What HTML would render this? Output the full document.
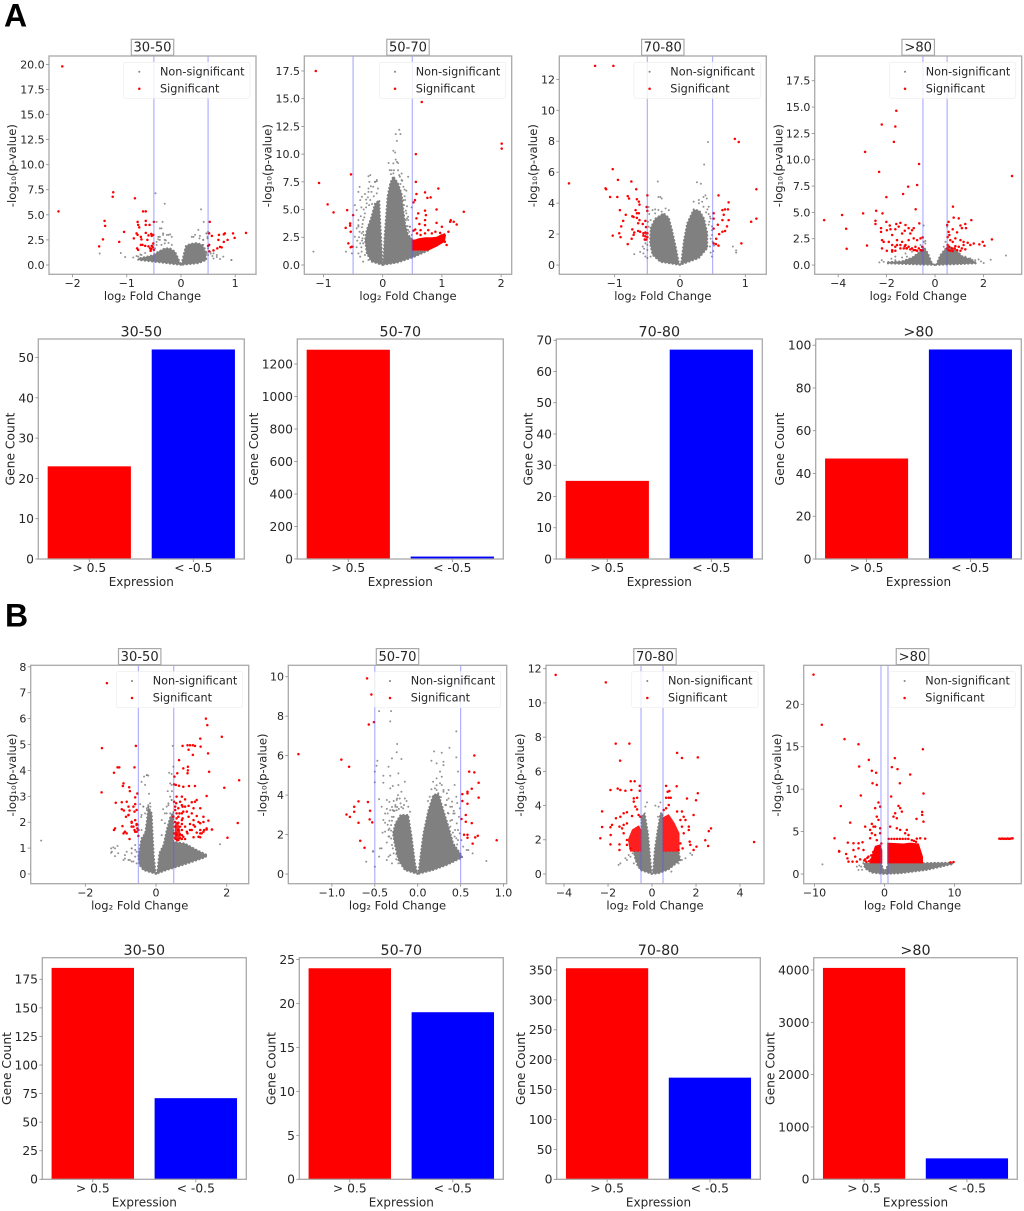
<!DOCTYPE html>
<html lang="en">
<head>
<meta charset="utf-8">
<title>Volcano plots and gene counts by age group</title>
<style>
html,body{margin:0;padding:0;background:#fff;}
svg{display:block;filter:blur(0.35px);font-family:"DejaVu Sans","Liberation Sans",sans-serif;}
text{fill:#262626;}
</style>
</head>
<body>
<svg id="figure" xmlns="http://www.w3.org/2000/svg" width="1024" height="1211" viewBox="0 0 1024 1211">
<rect x="0" y="0" width="1024" height="1211" fill="#fff"/>
<text x="4" y="26.5" font-family="Liberation Sans" font-weight="700" font-size="32" style="fill:#000">A</text>
<text x="5" y="626.7" font-family="Liberation Sans" font-weight="700" font-size="32" style="fill:#000">B</text>
</svg>
<script>
// ---------- shared labels ----------
const barCategories = ['> 0.5', '< -0.5'];
const legendLabels = ['Non-significant', 'Significant'];
const thresholds = [-0.5, 0.5];

// ---------- bar chart values ----------
const barA3050 = [23, 52];
const barA5070 = [1288, 15];
const barA7080 = [25, 67];
const barA80 = [47, 98];
const barB3050 = [185, 71];
const barB5070 = [24, 19];
const barB7080 = [353, 170];
const barB80 = [4040, 400];

// ---------- bar tick labels ----------
const barTicksA3050 = [0, 10, 20, 30, 40, 50];
const barTicksA5070 = [0, 200, 400, 600, 800, 1000, 1200];
const barTicksA7080 = [0, 10, 20, 30, 40, 50, 60, 70];
const barTicksA80 = [0, 20, 40, 60, 80, 100];
const barTicksB3050 = [0, 25, 50, 75, 100, 125, 150, 175];
const barTicksB5070 = [0, 5, 10, 15, 20, 25];
const barTicksB7080 = [0, 50, 100, 150, 200, 250, 300, 350];
const barTicksB80 = [0, 1000, 2000, 3000, 4000];

// ---------- volcano tick labels ----------
const xTicksA3050 = [-2, -1, 0, 1];
const yTicksA3050 = [0, 2.5, 5, 7.5, 10, 12.5, 15, 17.5, 20];
const xTicksA5070 = [-1, 0, 1, 2];
const yTicksA5070 = [0, 2.5, 5, 7.5, 10, 12.5, 15, 17.5];
const xTicksA7080 = [-1, 0, 1];
const yTicksA7080 = [0, 2, 4, 6, 8, 10, 12];
const xTicksA80 = [-4, -2, 0, 2];
const yTicksA80 = [0, 2.5, 5, 7.5, 10, 12.5, 15, 17.5];
const xTicksB3050 = [-2, 0, 2];
const yTicksB3050 = [0, 1, 2, 3, 4, 5, 6, 7, 8];
const xTicksB5070 = [-1, -0.5, 0, 0.5, 1];
const yTicksB5070 = [0, 2, 4, 6, 8, 10];
const xTicksB7080 = [-4, -2, 0, 2, 4];
const yTicksB7080 = [0, 2, 4, 6, 8, 10, 12];
const xTicksB80 = [-10, 0, 10];
const yTicksB80 = [0, 5, 10, 15, 20];

// ---------- A 30-50 ----------
const nsCloudA3050 = [
 [[0,0],[-.26,.17],[-.51,.33],[-.79,.5],[-.79,.66],[-.63,.83],[-.51,1],[-.42,1.33],[-.3,1.66],[-.2,1.66],[-.11,1.33],[-.05,.66],[-.01,.1]],
 [[.01,.1],[.055,1.16],[.09,1.9],[.17,2.1],[.29,2.2],[.4,2],[.45,1.33],[.47,.5],[.32,.17],[.135,.07],[0,0]]
];
const nsPointsA3050 = [[-.47,7.15],[-.3,6.1],[.37,5.55],[-.34,4.3],[-.45,4.3],[.42,4.3],[-.39,3.65],[.32,3.5],[.5,3.3],[.47,3.15],[.49,2.8],[-.23,3],[-.17,2.8],[-.33,3.15],[-.39,2.8],[-.3,2.5],[-.45,2.3],[.2,2.8],[.26,3],[.34,2.65],[.41,2.5],[-1.5,1.15],[-1.11,1.2],[-1.03,.8],[-.88,.75],[.6,.65],[.66,.8],[.93,.5],[.5,1],[.55,1.15],[.47,1.3],[.41,2],[.44,1.65],[-.82,.9],[-.75,1.05],[-.66,1.2],[-.55,1.55],[-.42,2.55],[-.28,2.45],[.72,.6],[.58,.9],[-.45,2],[-.39,2.5],[-.36,3.65],[-.33,3],[-.26,3],[-.2,3.05],[-.42,2.8],[-.51,2],[-.48,1.66],[-.36,2],[-.3,2.15],[-.23,2.2],[-.17,2],[-.73,1],[-.79,.83],[.23,2.8],[.35,2.9],[.41,2.5],[.47,3.15],[.49,2.65],[.5,1.66],[.54,1.33],[.6,1.16],[.66,1],[.78,.83],[.93,.5],[.47,1.16]];
const sigPointsA3050 = [[-2.19,19.8],[-2.26,5.35],[-1.25,7.25],[-1.26,6.8],[-.85,6.65],[-1.41,4.4],[-1.4,3.9],[-1.05,3.3],[-1.44,2.55],[-1.51,1.85],[-1.14,2.3],[-.7,5.35],[-.65,5.35],[-.8,4.3],[-.79,4],[-.77,3.75],[-.65,4.4],[-.65,4],[-.58,4],[-.5,4.3],[-.87,2.65],[-.82,3.15],[-.8,3],[-.74,2.8],[-.73,2.55],[-.65,3.2],[-.6,2.95],[-.55,3.1],[-.51,3],[-.62,2.5],[-.54,2.9],[-.74,2],[-.81,1.65],[-.79,1.5],[-.71,2],[-.6,1.85],[-.57,1.65],[-.54,1.9],[-.51,2.15],[-.55,1.6],[-.52,1.75],[-.5,1.5],[-.56,1.4],[-.66,1.9],[.53,4.3],[.52,3.15],[.57,2.9],[.7,3],[.79,3.05],[.81,3.15],[.96,3.15],[1.2,3.2],[.69,2.5],[.79,2.3],[.86,2.5],[.99,2.7],[.52,2],[.5,1.9],[.67,1.65],[.72,1.8],[.75,1.75],[.6,1.45],[.52,1.35]];
const sigCloudA3050 = [];

// ---------- A 50-70 ----------
const nsCloudA5070 = [
 [[0,0],[-.19,.3],[-.27,1.05],[-.3,2.25],[-.27,3.15],[-.19,4.35],[-.13,5.55],[-.056,5.85],[-.045,4.35],[-.023,2.25],[-.005,.45]],
 [[.01,.45],[.03,2.55],[.056,4.35],[.08,6.15],[.124,7.35],[.18,8],[.26,7.35],[.32,6.45],[.35,4.95],[.38,3.75],[.43,2.7],[.49,2.4],[.49,1.3],[.77,1.3],[.52,.7],[.24,.2],[0,0]]
];
const nsPointsA5070 = [[.28,12.2],[.22,11.8],[.3,11.8],[.24,11.2],[.18,10.3],[.21,10.15],[.1,9.2],[.22,9.5],[.26,9.2],[.15,8.55],[.19,8.55],[.32,8.25],[.26,8.55],[-.21,8.1],[-.24,8],[-.1,7.55],[-.13,7.5],[-.39,7.05],[-.41,6.6],[-.38,5.85],[-.47,5.4],[.4,6.7],[.49,5.2],[.43,4.35],[.39,4.05],[.46,3.45],[.35,5.85],[-1.17,1.2],[-.62,1.2],[-.52,1.05],[-.5,1.65],[-.47,2.55],[-.44,3.3],[-.41,4.05],[-.41,1.05],[-.38,.75],[-.33,.3],[-.44,4.95],[-.35,6.15],[-.3,6.4],[-.24,6.9],[.37,6.2],[.33,7.6],[.41,5.3],[-.43,2.2],[-.44,1.6],[-.41,3.6],[-.355,2.86],[-.33,4.06],[-.3,4.66],[-.27,5.56],[-.24,6.6],[-.225,7.5],[-.19,6.6],[-.16,7.06],[-.13,7.5],[-.1,7.66],[-.21,5.86],[-.33,1.95],[-.355,1.2],[-.3,.9],[-.24,.45],[-.38,1.95],[-.41,3.46],[-.1,6.46],[.29,7.96],[.35,7.06],[.18,9.17],[.24,9.3],[.12,8.56],[.43,7.96],[.4,4.66],[.43,4.06],[.46,3.46],[.38,5.86],[.43,3.16],[.49,2.7],[.32,7.66],[.18,8.26],[-.35,3.4],[-.33,3],[-.32,5],[-.28,5.9],[-.34,2.4],[-.36,1.6],[-.34,3.7],[-.37,4.4],[-.31,4.3],[-.32,2.7],[-.35,2.2],[-.28,5.2],[-.23,5.4],[-.25,6.1],[-.18,5.5],[-.15,6.2],[-.2,7.1],[-.08,6.9],[-.36,5.2],[-.39,3],[-.4,2.5],[.36,5.4],[.39,4.9],[.41,4.2],[.42,3.5],[.45,3],[.37,6.8],[.28,8.1],[.14,8.2],[.3,7.3]];
const sigPointsA5070 = [[-1.13,17.5],[-1.075,7.4],[-.93,5.47],[-.83,4.75],[-.6,4.95],[-.535,8.17],[-.5,4.5],[-.55,3.75],[-.55,3.55],[-.625,3.35],[-.54,3],[-.58,1.95],[-.54,1.6],[-.52,1.65],[.66,14.7],[.56,10],[2.01,10.95],[2.01,10.5],[.56,7.5],[.94,6.9],[.715,6.55],[.57,6.4],[.755,6.05],[.81,6.1],[.545,5.85],[.52,5.65],[.91,5],[1.37,4.8],[.715,4.9],[.73,4.5],[.6,4.65],[.57,4.2],[1.15,4.05],[1.14,3.9],[1.2,3.9],[1.25,3.65],[.91,3.8],[.715,4.05],[.62,3.7],[.715,3.6],[1,3.45],[1.11,3],[.89,3],[.77,3.15],[.64,3.15],[.55,3.2],[.52,3.1],[.64,2.7],[.715,2.85],[.83,2.85],[1.05,2.1],[1.08,1.8],[1.04,2.75],[.97,2.9],[.58,2.85]];
const sigCloudA5070 = [
 [[.49,1.3],[.77,1.3],[.91,1.65],[1.05,2.1],[1.07,2.7],[1,2.8],[.91,2.55],[.83,2.5],[.72,2.5],[.6,2.4],[.55,2.3],[.49,2.3]]
];

// ---------- A 70-80 ----------
const nsCloudA7080 = [
 [[0,0],[-.3,.2],[-.42,.65],[-.46,1.4],[-.45,2.4],[-.38,3],[-.25,3.35],[-.17,3.05],[-.12,2.25],[-.06,1.1],[-.02,.2]],
 [[.02,.2],[.06,1.6],[.11,2.7],[.21,3.6],[.3,3.5],[.37,3],[.42,2.05],[.42,1.1],[.29,.45],[0,0]]
];
const nsPointsA7080 = [[.43,7.95],[.37,6.5],[-.34,5.4],[.26,5.35],[.32,5.25],[-.33,4.4],[-.3,4.4],[-.28,4.3],[-.48,3.75],[-.47,3.3],[.39,4.5],[.36,4.4],[.41,4.3],[.21,4.1],[.29,4.2],[.44,3.3],[.49,2.5],[.49,2.25],[.49,.55],[.46,1.2],[-.7,.7],[-.57,1.2],[-.53,.55],[-.5,.45],[-.61,.85],[.81,1.2],[.86,.95],[.86,.8],[-.42,3.55],[-.38,3.6],[-.22,3.65],[-.17,3.55],[-.52,2],[-.53,1.6],[.5,1.5],[.47,3],[.42,3.6],[.45,2.8],[-.55,1.05],[.51,.9],[-.38,3.34],[-.33,3.56],[-.28,3.45],[-.45,2.9],[-.48,2.48],[-.5,1.83],[-.53,1.4],[-.56,.75],[-.5,.97],[-.45,.54],[.29,3.99],[.34,4.09],[.36,3.77],[.44,3.77],[.46,3.13],[.49,1.94],[.44,2.6],[.47,1.7],[.4,3.4],[-.49,2.8],[-.5,1.3],[.52,1.25],[.47,.8]];
const sigPointsA7080 = [[-1.3,12.87],[-1.02,12.87],[-1.7,5.28],[-1.03,6.2],[-.95,5.5],[-.745,5.4],[-.67,4.9],[-1.14,4.95],[-1.13,4.9],[-1.07,4.4],[-.96,4.4],[-.8,4.45],[-.78,4.3],[-.66,4.25],[-.63,4.1],[-.62,3.9],[-.5,4.5],[-.51,3.75],[-.5,3.5],[-.92,3.55],[-.83,3.25],[-.73,3.15],[-.68,3.55],[-.66,3.35],[-.63,3.35],[-.71,3.1],[-.66,3.05],[-.62,2.9],[-.64,2.7],[-.87,2.85],[-.9,2.5],[-.53,2.85],[-.57,2.65],[-.52,2.45],[-.93,2.05],[-1.03,1.9],[-.91,1.8],[-.73,2.3],[-.7,2.1],[-.64,2.2],[-.61,2.15],[-.74,1.7],[-.8,1.35],[-.71,1.95],[-.56,2.05],[-.53,2.1],[-.5,2.05],[-.56,1.9],[-.53,1.85],[-.5,1.8],[-.54,1.65],[-.515,1.65],[.84,8.15],[.9,7.95],[1.17,4.9],[.59,4.5],[.745,4.05],[.515,3.35],[.65,3.55],[.69,3.6],[.735,3.6],[.67,3.25],[.515,3],[.65,2.9],[.745,2.9],[.58,2.6],[.515,2.35],[.72,2.5],[.69,2.2],[.65,2.15],[.6,2],[.555,1.7],[.515,1.4],[.55,1.35],[.59,1.25],[.94,1.4],[1.09,2.8],[1.17,3]];
const sigCloudA7080 = [];

// ---------- A >80 ----------
const nsCloudA80 = [
 [[0,0],[-1.98,.15],[-1.98,.28],[-1.36,.36],[-.95,.7],[-.67,1.2],[-.47,1.75],[-.29,1.1],[-.15,.3],[-.05,.05]],
 [[.05,.05],[.22,.95],[.5,1.75],[.84,1.55],[1.11,.85],[1.53,.5],[1.73,.15],[0,0]]
];
const nsPointsA80 = [[2.93,.9],[2.01,.19],[-.47,3.75],[-.47,2.2],[-.4,2.3],[.5,3.65],[-2.12,.3],[-2.2,.47],[-1.64,.8],[-1.36,.72],[-1.22,1.1],[-.95,1.26],[-1.16,.8],[-1.64,.47],[.98,1.1],[1.25,.8],[1.46,.63],[1.66,.47],[1.8,.54],[.43,2.2],[.36,1.74],[-.6,1.9],[-.4,2.05],[-2.3,.25],[2.3,.5],[1.9,.35],[-1.8,.6]];
const sigPointsA80 = [[-1.6,14.65],[-2.2,13.35],[-1.64,13.15],[-1.7,11.7],[-2.89,10.75],[-.66,9.6],[-2.31,8.85],[-1.11,7.45],[-.74,7.6],[-1.32,6.75],[-2.01,6.45],[-.8,5.3],[-2.43,5.15],[-2.17,4.9],[-2.97,4.9],[-3.84,4.75],[-4.58,4.27],[-3.67,3.45],[-3.65,1.55],[-2.81,1.85],[-2.46,4.2],[-2.46,3.9],[-2.01,4.1],[-2.23,3.5],[-2.23,3.15],[-1.99,3.3],[-1.84,3.4],[-1.6,3.9],[-1.87,3.75],[-1.43,4],[-1.22,3.8],[-1.09,3.5],[-.95,3.3],[-.65,3.95],[-1.64,3.4],[-1.5,3.65],[-1.25,3.25],[-1.02,3],[-.88,3.5],[-1.36,3],[-2.19,2.37],[-2.12,2.2],[-1.77,2.85],[-1.91,2.2],[-1.57,2.37],[-1.36,2.2],[-1.09,2.37],[-.88,2.53],[-.74,2.37],[-.6,2.53],[-.51,2.63],[-2.19,1.58],[-1.99,1.36],[-1.77,1.9],[-1.64,1.74],[-1.43,1.58],[-1.22,1.9],[-1.09,1.74],[-.95,1.58],[-.81,1.74],[-.67,1.58],[-.53,1.74],[-1.77,1.42],[-1.64,1.36],[-1.29,1.58],[-1.16,1.58],[-1.02,1.49],[-.88,1.42],[-.74,1.36],[-.6,1.42],[-.51,1.42],[-1.77,1.27],[-1.43,1.9],[-1.25,1.8],[-1.18,1.58],[-1.57,1.9],[-.81,1.42],[-.53,1.36],[.74,5.55],[3.18,8.45],[1.5,4.27],[.77,4.5],[.98,4.43],[.56,4.1],[.5,3.8],[1.25,3.9],[1.05,3.75],[1.28,3.5],[.73,3.4],[1.11,3.5],[.91,3.1],[.56,3.15],[.59,2.85],[.52,2.65],[.63,2.37],[.73,2.2],[.84,2.53],[1.05,2.37],[1.18,2.2],[1.35,2.12],[1.6,2.05],[1.97,2.2],[2.35,2.44],[1.83,1.96],[2.04,1.83],[.52,1.9],[.59,1.74],[.7,1.58],[.84,1.8],[.98,1.74],[1.11,1.58],[.56,1.42],[.63,1.36],[.73,1.33],[.81,1.58],[.91,1.42],[1.05,1.36],[1.25,1.49],[1.46,1.9],[1.18,1.9],[.5,1.58]];
const sigCloudA80 = [];

// ---------- B 30-50 ----------
const nsCloudB3050 = [
 [[0,0],[-.36,.15],[-.47,.35],[-.5,.67],[-.45,1.12],[-.41,1.38],[-.31,1.57],[-.26,2.08],[-.22,2.6],[-.12,2.34],[-.1,1.7],[-.06,.67],[-.02,.15]],
 [[.04,.15],[.09,.8],[.21,1.12],[.3,1.7],[.4,2.2],[.49,2.4],[.49,1.25],[.82,1.18],[1.15,.93],[1.45,.73],[1.39,.64],[.77,.35],[.3,.15],[0,0]]
];
const nsPointsB3050 = [[-3.25,1.29],[1.81,1.15],[.47,4.95],[.49,4.14],[.37,3.91],[.44,3.86],[-.26,3.82],[-.22,3.8],[-.34,3.76],[.44,3.44],[-.41,3.56],[-.31,3.44],[-.45,2.7],[-.36,2.6],[-.26,2.47],[-.22,2.66],[.4,2.99],[.44,2.86],[.35,2.73],[.25,2.34],[.16,2.08],[.3,2.6],[.4,2.34],[-1.27,.82],[-1.21,1.03],[-1.09,1.08],[-1.27,.99],[-1.16,.69],[-.88,.73],[-.78,.54],[-.92,.54],[-.69,.48],[-.55,.41],[-.69,.99],[-.59,1.12],[-.69,.8],[-.59,.67],[-.83,.86],[-.26,1.83],[-.31,1.57],[-.41,1.7],[-.16,2.6],[-.2,3.1],[.33,3.2],[.2,2.5],[-.5,1.9],[-.42,2.2],[.45,3.2],[-1.25,.86],[-1.16,.99],[-1.07,.8],[-.88,.6],[-.74,.54],[-.64,.48],[-.59,.93],[-.69,.99],[-.55,.86],[-.45,.35],[-.26,2.54],[-.17,2.73],[-.22,2.2],[-.31,2.34],[-.41,2.28],[-.36,2.6],[-.17,1.83],[-.26,3.82],[.3,2.34],[.35,2.66],[.44,2.86],[.25,1.96],[.16,1.5],[.4,3.5]];
const sigPointsB3050 = [[-1.39,7.37],[-1.53,4.86],[-.57,4.95],[-1.54,3.15],[-1.09,4.12],[-1.04,4.12],[-1.19,3.91],[-.61,4.12],[-.92,3.5],[-.94,3.4],[-.76,3.35],[-.74,3.2],[-.53,3.11],[-.59,2.96],[-1.14,2.75],[-.97,2.77],[-.83,2.79],[-.59,2.7],[-.64,2.6],[-.97,2.5],[-.91,2.45],[-.78,2.6],[-.75,2.45],[-.78,2.28],[-.85,2.21],[-.61,2.41],[-.55,2.47],[-.69,1.98],[-.59,2.08],[-.55,1.93],[-.69,1.83],[-.61,1.7],[-.53,1.76],[-.95,1.85],[-1.16,1.76],[-1.19,1.7],[-.88,1.63],[-.83,1.57],[-.75,1.35],[-.5,1.47],[-.55,1.63],[1.41,6],[1.45,5.75],[1.25,5.23],[1.86,5.3],[1.26,4.92],[.75,4.95],[.89,4.97],[.96,4.97],[1.04,4.97],[1.1,4.95],[1.47,4.66],[.92,4.8],[1.04,4.6],[.65,4.4],[.9,4.14],[.9,4],[.89,3.89],[.77,4.08],[1.5,3.95],[2.35,3.62],[.6,3.89],[.52,3.76],[.51,3.46],[.56,3.44],[.65,3.41],[.77,3.37],[.93,3.4],[1.1,3.4],[1.93,3.33],[1.43,3.01],[.58,2.99],[.73,2.99],[.51,2.79],[.68,2.79],[.82,2.88],[1.15,2.86],[1.1,2.79],[1.01,2.77],[.54,2.6],[.63,2.54],[.75,2.6],[.92,2.63],[1.06,2.54],[1.25,2.54],[.58,2.34],[.73,2.34],[.87,2.41],[1.01,2.34],[1.15,2.24],[1.34,2.21],[1.48,2.06],[.49,2.21],[.63,2.21],[.75,2.15],[.92,2.21],[1.06,2.08],[1.2,2.01],[1.34,2.01],[.54,2.01],[.63,1.98],[.73,1.93],[.82,1.83],[.96,1.93],[1.1,1.83],[1.25,1.7],[1.43,1.76],[1.58,1.72],[1.36,1.7],[.54,1.83],[.63,1.7],[.73,1.7],[.87,1.63],[1.01,1.7],[1.15,1.6],[1.29,1.57],[.51,1.57],[.58,1.5],[.68,1.53],[.77,1.44],[.56,1.35],[.63,1.31],[.73,1.35],[.82,1.35],[1.06,1.42],[1.25,1.42],[2.31,1.97],[2.02,1.4],[.54,1.38],[.6,1.31],[.68,1.38],[.73,1.5],[.57,1.57],[.63,1.7],[.54,1.83],[.68,1.83],[.6,1.96],[.73,2.08],[.58,2.15],[.66,2.34],[.77,2.41],[.54,2.47],[.57,2.73],[.73,2.66],[.82,2.6],[.89,1.57],[.96,1.7],[1.06,1.89],[1.25,1.96],[1.25,1.57],[1.43,1.72],[1.58,1.72],[1.2,1.44],[1.34,1.63],[-.78,2.28],[-.69,2.02],[-.64,1.83],[-.55,1.89],[-.59,1.63],[-.5,1.7],[-.88,1.63],[-.92,1.57]];
const sigCloudB3050 = [
 [[.52,1.34],[.7,1.34],[.68,1.7],[.62,2],[.54,1.95]]
];

// ---------- B 50-70 ----------
const nsCloudB5070 = [
 [[0,0],[-.15,.2],[-.225,.7],[-.27,1.55],[-.29,2.06],[-.26,2.57],[-.2,3],[-.11,3],[-.07,1.9],[-.03,.54],[-.01,.15]],
 [[.01,.15],[.035,1.05],[.066,2.06],[.124,3.24],[.18,4],[.24,4.09],[.3,3.24],[.36,2.4],[.415,1.55],[.51,.96],[.52,.84],[.34,.46],[.18,.2],[0,0]]
];
const nsPointsB5070 = [[-.45,8.26],[-.31,8.26],[-.32,7.74],[.45,7.23],[-.24,6.59],[.37,6.4],[.19,6.22],[.28,6.15],[-.245,6.17],[-.3,5.86],[-.19,5.83],[-.47,5.74],[-.48,5.49],[-.5,5.19],[-.34,5.44],[-.225,5.1],[-.4,4.98],[-.32,4.98],[-.5,4.65],[-.4,4.63],[-.29,4.46],[-.15,4.68],[.45,5.91],[.16,5.74],[.3,5.69],[.3,5.52],[.22,5.61],[.26,5.19],[.47,5.19],[.22,4.85],[.28,4.93],[.43,4.51],[.36,3.83],[.45,3.92],[.4,3.67],[.34,4.09],[.49,3.33],[-.45,3.8],[-.42,3.41],[-.36,3.75],[-.38,3.07],[-.34,2.23],[-.34,.88],[-.44,1.3],[-.52,1.13],[-.36,.71],[-.3,.54],[-.225,.54],[-.5,.37],[.8,.66],[-.52,1.17],[-.6,.62],[.59,1.22],[.64,1.05],[-.32,3.24],[-.26,3.41],[-.245,3.75],[-.32,4.34],[-.225,4.51],[-.19,4.17],[-.21,3.83],[.18,4.68],[.22,4.26],[.28,4.51],[.3,4.17],[.36,4.26],[.4,3.41],[.43,3.07],[.47,2.23],[.45,1.81],[.51,1.72],[-.38,2.6],[-.36,1.6],[-.3,2.9],[-.33,1.9],[.38,2.7],[.42,3.2],[.33,3.5],[-.41,2.1],[-.28,3.2],[.48,2.9],[.46,3.6],[-.4,2.74],[-.38,2.15],[-.35,3.07],[-.34,1.9],[-.33,3.66],[-.31,2.48],[-.3,1.47],[-.32,.96],[-.29,3.24],[-.28,1.05],[-.26,3.5],[-.245,3.24],[-.24,3.83],[-.2,3.58],[-.17,3.33],[-.15,3.83],[-.11,3.41],[-.09,3.16],[-.42,1.3],[-.45,.88],[.14,3.92],[.2,4.34],[.26,4.6],[.3,4.26],[.34,3.75],[.38,3.41],[.4,2.74],[.435,2.23],[.47,1.72],[.36,3.07],[.415,3.07],[.455,2.57],[.49,2.06],[.53,1.39],[.57,1.22],[-.33,2.3],[-.33,2.7],[-.31,1.8],[-.31,2.2],[-.3,2.7],[-.3,3.4],[-.29,1.3],[-.28,2.9],[-.28,3.7],[-.27,3.2],[-.25,1],[-.24,3.4],[-.23,4],[-.22,3.3],[-.19,3.4],[-.16,3.5],[-.13,3.7],[-.25,.75],[-.35,2.5],[-.36,3.3],[.12,3.7],[.16,4.3],[.22,4.5],[.27,3.9],[.32,3.5],[.35,3.1],[.38,2.4],[.41,2.1],[.43,1.9],[.46,1.5]];
const sigPointsB5070 = [[-.59,9.92],[-.54,9.1],[-.57,7.58],[-.51,7.7],[-1.39,6.08],[-.89,5.8],[-.8,5.44],[-.69,3.68],[-.58,3.65],[-.74,3.41],[-.74,3.16],[-.555,3.21],[-.83,3.02],[-.79,2.9],[-.56,2.77],[-.53,2.62],[-.69,2.6],[-.67,1.69],[-.62,1.33],[.66,6.01],[.6,5.19],[.66,5.15],[.71,4.63],[.63,4.32],[.58,4.17],[.58,4.09],[.52,4.05],[.71,3.87],[.52,3.7],[.58,3.56],[.56,2.99],[.51,2.79],[.56,2.65],[.63,2.58],[.54,1.99],[.58,1.99],[.58,1.84],[.7,1.94],[.67,1.86],[.92,1.71],[.64,1.54]];
const sigCloudB5070 = [];

// ---------- B 70-80 ----------
const nsCloudB7080 = [
 [[0,0],[-.53,.23],[-.76,.82],[-.83,1.31],[-.48,1.3],[-.48,3.35],[-.33,3.55],[-.18,2.38],[-.1,1.2],[-.03,.23]],
 [[.05,.23],[.12,1.4],[.23,2.38],[.38,3.55],[.48,3.55],[.48,1.31],[1.21,1.31],[1.29,.82],[.76,.27],[.3,.04],[0,0]]
];
const nsPointsB7080 = [[.15,4],[.38,4.19],[-.23,4.19],[-.3,3.94],[-.38,3.45],[-.45,3.35],[.3,3.94],[.27,3.35],[-1.52,.53],[-1.44,.62],[-1.21,.92],[-1.14,.82],[-1.06,1.11],[-.98,1.01],[-.88,1.21],[-.83,.62],[-.68,.53],[-.61,.43],[1.36,.82],[1.52,.92],[1.21,.62],[1.74,1.21],[1.82,1.11],[.88,.14]];
const sigPointsB7080 = [[-4.38,11.64],[-2.1,11.2],[-1.65,7.62],[-1.03,7.62],[-1.45,6.63],[1.14,7.08],[1.36,6.78],[2.08,6.82],[-.97,5.42],[-.79,5.42],[-.56,5.15],[-.56,4.87],[-1.89,4.91],[-1.56,4.99],[-1.44,4.91],[-1.21,4.87],[-.94,4.91],[.64,5.15],[1.12,5.13],[.71,4.81],[.79,4.85],[2.08,4.72],[.64,4.46],[.76,4.46],[.85,4.46],[1.59,4.41],[2,4.31],[-.83,4.42],[-.68,4.46],[-.83,4.23],[-2.27,3.66],[-2.27,2.75],[-2.35,2.09],[-1.89,2.73],[-1.82,2.87],[-1.88,2.28],[-1.89,1.73],[-1.64,3.26],[-1.44,3.35],[-1.29,3.55],[-1.14,3.61],[-.91,3.39],[-.76,3.94],[-.68,3.78],[-.61,3.45],[-.53,3.35],[-1.48,2.77],[-1.29,2.87],[-1.36,2.67],[-1.14,2.96],[-1.29,2.38],[-1.14,1.99],[-1.48,1.73],[-1.48,1.4],[-1.14,1.7],[-.98,1.5],[1.89,3.45],[1.67,2.77],[1.67,2.57],[2.68,2.67],[2.58,2.51],[2.42,1.97],[2.55,1.64],[1.71,1.89],[1.74,1.7],[2.02,1.6],[1.89,1.4],[4.64,1.87],[1.36,3.65],[1.44,3.35],[1.52,3.16],[1.36,2.77],[1.44,2.38],[1.29,1.79],[1.39,1.5],[1.21,1.4],[.64,3.84],[.76,4.03],[.53,3.74],[1.14,3.65],[1.29,3.16]];
const sigCloudB7080 = [
 [[-.48,1.31],[-1,1.31],[-1.1,2],[-.91,2.6],[-.6,2.85],[-.48,2.57]],
 [[.48,1.31],[1.25,1.31],[1.25,2.38],[1.02,3],[.76,3.5],[.48,3.3]]
];

// ---------- B >80 ----------
const nsCloudB80 = [
 [[-3.02,1.3],[-2.79,.67],[-1.83,.16],[0,0],[2.2,.08],[6,.47],[9.83,1.18],[9.6,1.34],[7.45,1.33],[5.8,1.3],[.55,1.3],[.3,.7],[0,.3],[-.25,.7],[-.45,1.3]]
];
const nsPointsB80 = [[-8.86,1.14],[-3.95,.87],[-3.71,.47],[-3.33,.87],[6.29,1.06],[7.24,1.26],[5.33,1.06],[-3.6,1],[-3.2,.5]];
const sigPointsB80 = [[-10.14,23.5],[-8.95,17.6],[-5.71,15.9],[-3.71,15.3],[5.48,14.7],[1.48,13.66],[-2.24,13.46],[-3.62,12.68],[1.05,12.6],[1.86,12.36],[-1.81,12.17],[-1.19,11.93],[3.67,11.73],[-1.71,10.7],[-1.1,10.5],[2.19,10.7],[5.57,9.49],[-3.38,9.25],[.95,9.13],[-6.24,8],[5.38,7.32],[5.38,6.97],[4.57,6.5],[5.57,6.18],[-4.9,6.06],[-7.14,4.21],[-6.48,2.72],[-6.48,2.64],[-5.24,3.7],[-4.43,3.62],[-3.71,3.62],[-3.14,3.74],[-2.76,5.59],[-1.81,5.91],[-1.57,5.59],[-1.81,4.8],[-1.33,4.6],[-2.05,4.21],[-1.1,4],[-5.48,2.36],[-5.29,1.85],[-5.14,1.46],[-4.19,2.05],[-4.43,2.83],[-3.71,3.03],[-3,2.83],[-3.95,1.46],[-3.48,1.73],[-2.76,1.73],[-2.29,2.05],[-4.57,1.46],[-.62,7.95],[-.86,8.43],[-1.33,7.76],[-1.1,6.77],[-.62,5.39],[-.86,6.38],[-.62,4.8],[-1.33,5.59],[-2.05,5.2],[2,8.03],[2.24,7.76],[1.52,7.17],[1.76,6.57],[2.48,7.36],[1.29,6.77],[.81,5.59],[2.24,5.2],[3.19,5.2],[3.43,4.6],[4.62,4.17],[5.1,4.21],[5.81,4.17],[2.95,4.8],[1.76,5.4],[.6,4.15],[1,4.15],[1.4,4.15],[1.8,4.15],[2.2,4.15],[2.6,4.15],[3,4.15],[3.4,4.15],[9.43,1.38],[9.86,1.42],[16.4,4.17],[16.6,4.15],[16.8,4.18],[17,4.15],[17.2,4.17],[17.4,4.15],[17.6,4.18],[17.8,4.15],[18,4.17],[18.2,4.2],[18.3,4.2],[-2.6,1.45],[-2.2,1.5],[-2.9,1.6],[-2.45,1.9],[-1.9,2.2],[-1.95,1.7],[-1.6,2.6],[-1.2,3.2],[-.6,3.3],[-.45,3.6],[3.9,4],[4.2,3.9],[4.5,3.8]];
const sigCloudB80 = [
 [[-2.1,1.26],[-1.83,2.2],[-1.36,3.3],[-.64,3.5],[-.31,2.83],[-.31,1.26]],
 [[.4,1.26],[.4,3.7],[2.7,3.6],[3.64,3.7],[4.9,3.6],[5.5,2.04],[5.5,1.26]]
];

// ---------- layout ----------
const volcanoPanels = [
 {id:'a-30-50',title:'30-50',box:[49,56,207,218.3],xLim:[-2.435,1.384],yLim:[-.93,20.84],xTicks:xTicksA3050,yTicks:yTicksA3050,ns:nsPointsA3050,sig:sigPointsA3050,nsCloud:nsCloudA3050,sigCloud:sigCloudA3050,sigAlpha:1,yLabelX:12},
 {id:'a-50-70',title:'50-70',box:[304.3,56,207.4,218.3],xLim:[-1.324,2.179],yLim:[-.84,18.85],xTicks:xTicksA5070,yTicks:yTicksA5070,ns:nsPointsA5070,sig:sigPointsA5070,nsCloud:nsCloudA5070,sigCloud:sigCloudA5070,sigAlpha:1,yLabelX:267.7},
 {id:'a-70-80',title:'70-80',box:[559.3,56,207,218.3],xLim:[-1.848,1.322],yLim:[-.6,13.51],xTicks:xTicksA7080,yTicks:yTicksA7080,ns:nsPointsA7080,sig:sigPointsA7080,nsCloud:nsCloudA7080,sigCloud:sigCloudA7080,sigAlpha:1,yLabelX:533},
 {id:'a-over-80',title:'>80',box:[814.7,56,207,218.3],xLim:[-4.97,3.58],yLim:[-.88,19.85],xTicks:xTicksA80,yTicks:yTicksA80,ns:nsPointsA80,sig:sigPointsA80,nsCloud:nsCloudA80,sigCloud:sigCloudA80,sigAlpha:1,yLabelX:778.7},
 {id:'b-30-50',title:'30-50',box:[30.7,665.3,218,218.4],xLim:[-3.545,2.62],yLim:[-.375,8.06],xTicks:xTicksB3050,yTicks:yTicksB3050,ns:nsPointsB3050,sig:sigPointsB3050,nsCloud:nsCloudB3050,sigCloud:sigCloudB3050,sigAlpha:.85,yLabelX:12},
 {id:'b-50-70',title:'50-70',box:[288.3,665.3,218.4,218.4],xLim:[-1.508,1.037],yLim:[-.49,10.58],xTicks:xTicksB5070,yTicks:yTicksB5070,ns:nsPointsB5070,sig:sigPointsB5070,nsCloud:nsCloudB5070,sigCloud:sigCloudB5070,sigAlpha:1,yLabelX:262.7},
 {id:'b-70-80',title:'70-80',box:[546,665.3,218,218.4],xLim:[-4.82,5.09],yLim:[-.567,12.2],xTicks:xTicksB7080,yTicks:yTicksB7080,ns:nsPointsB7080,sig:sigPointsB7080,nsCloud:nsCloudB7080,sigCloud:sigCloudB7080,sigAlpha:.88,yLabelX:520},
 {id:'b-over-80',title:'>80',box:[803.7,665.3,217.6,218.4],xLim:[-11.54,19.54],yLim:[-1.14,24.6],xTicks:xTicksB80,yTicks:yTicksB80,ns:nsPointsB80,sig:sigPointsB80,nsCloud:nsCloudB80,sigCloud:sigCloudB80,sigAlpha:1,yLabelX:777}
];
const barPanels = [
 {id:'a-30-50',title:'30-50',box:[38.3,339,206,220],yMax:54.6,values:barA3050,ticks:barTicksA3050,yLabelX:10.7},
 {id:'a-50-70',title:'50-70',box:[297.3,339,206,220],yMax:1354,values:barA5070,ticks:barTicksA5070,yLabelX:254},
 {id:'a-70-80',title:'70-80',box:[556.3,339,206,220],yMax:70.4,values:barA7080,ticks:barTicksA7080,yLabelX:528.7},
 {id:'a-over-80',title:'>80',box:[815.7,339,205.6,220],yMax:102.9,values:barA80,ticks:barTicksA80,yLabelX:780},
 {id:'b-30-50',title:'30-50',box:[42.3,957.7,204,221.6],yMax:193.9,values:barB3050,ticks:barTicksB3050,yLabelX:7},
 {id:'b-50-70',title:'50-70',box:[299.3,957.7,204,221.6],yMax:25.2,values:barB5070,ticks:barTicksB5070,yLabelX:271.7},
 {id:'b-70-80',title:'70-80',box:[556.7,957.7,203.6,221.6],yMax:370.6,values:barB7080,ticks:barTicksB7080,yLabelX:521},
 {id:'b-over-80',title:'>80',box:[813.7,957.7,203.6,221.6],yMax:4235,values:barB80,ticks:barTicksB80,yLabelX:770.3}
];

const NS = 'http://www.w3.org/2000/svg';
const root = document.getElementById('figure');
const GRID = '#a9a9a9';
const FS = {tick:11, barTick:12.3, label:11.5, vLabel:11.6, barLabel:12, geneLabel:12.3, legend:11.25, vTitle:13.1, bTitle:14.3};

function make(tag, parent, attrs, content) {
  const el = document.createElementNS(NS, tag);
  for (const k in attrs) el.setAttribute(k, attrs[k]);
  if (content !== undefined) el.textContent = content;
  parent.appendChild(el);
  return el;
}
function linear(domain, range) {
  return v => range[0] + (v - domain[0]) / (domain[1] - domain[0]) * (range[1] - range[0]);
}
function fmtTicks(ticks) {
  const dec = ticks.some(t => !Number.isInteger(t)) ? 1 : 0;
  return ticks.map(t => t.toFixed(dec).replace('-', '\u2212'));
}
function cloudPath(poly, sx, sy) {
  return poly.map((p, i) => (i ? 'L' : 'M') + sx(p[0]).toFixed(2) + ' ' + sy(p[1]).toFixed(2)).join('') + 'Z';
}
function drawFrame(g, box) {
  const f = make('rect', g, {x:box[0],y:box[1],width:box[2],height:box[3],fill:'none',stroke:GRID,'stroke-width':1.3});
  
  
}
function drawXTick(g, x, y, label, labelY, size) {
  const t = make('line', g, {x1:x,x2:x,y1:y,y2:y+3,stroke:'#8a8a8a','stroke-width':.8});
  
  
  const l = make('text', g, {x:x,y:labelY,'text-anchor':'middle','font-size':size}, label);
  
  
}
function drawYTick(g, left, y, label, size) {
  const t = make('line', g, {x1:left-3,x2:left,y1:y,y2:y,stroke:'#8a8a8a','stroke-width':.8});
  
  
  const l = make('text', g, {x:left-4.3,y:y+size*.36,'text-anchor':'end','font-size':size}, label);
  
  
}

function drawVolcano(p) {
  const [L, T, W, H] = p.box;
  const sx = linear(p.xLim, [L, L + W]);
  const sy = linear(p.yLim, [T + H, T]);
  const g = make('g', root, {});
  
  

  p.nsCloud.forEach(poly => {
    const c = make('path', g, {d:cloudPath(poly, sx, sy),fill:'#808080',stroke:'#808080','stroke-width':1.8,'stroke-linecap':'round','stroke-linejoin':'round','stroke-dasharray':'0.5 3.1'});
    
    
  });
  p.ns.forEach(d => {
    const c = make('circle', g, {cx:sx(d[0]),cy:sy(d[1]),r:1,fill:'#808080','fill-opacity':.85});
    
    
  });
  p.sigCloud.forEach(poly => {
    const c = make('path', g, {d:cloudPath(poly, sx, sy),fill:'#ff0000','fill-opacity':p.sigAlpha,stroke:'none'});
    
    
  });
  p.sig.forEach(d => {
    const c = make('circle', g, {cx:sx(d[0]),cy:sy(d[1]),r:1.25,fill:'#ff0000'});
    
    
  });
  thresholds.forEach(v => {
    const l = make('line', g, {x1:sx(v),x2:sx(v),y1:T,y2:T+H,stroke:'#5050ff','stroke-opacity':.45,'stroke-width':1.2});
    
    
  });
  drawFrame(g, p.box);

  const xLabels = fmtTicks(p.xTicks);
  p.xTicks.forEach((t, i) => drawXTick(g, sx(t), T + H, xLabels[i], T + H + 12.7, FS.tick));
  const yLabels = fmtTicks(p.yTicks);
  p.yTicks.forEach((t, i) => drawYTick(g, L, sy(t), yLabels[i], FS.tick));

  const cx = L + W / 2;
  const boxW = p.title === '>80' ? 32.5 : 42.4;
  const tb = make('rect', g, {x:cx-boxW/2,y:T-16.7,width:boxW,height:16,fill:'#fff',stroke:GRID,'stroke-width':1.2});
  
  
  const tt = make('text', g, {x:cx,y:T-4.3,'text-anchor':'middle','font-size':FS.vTitle}, p.title);
  
  

  const xl = make('text', g, {x:cx,y:T+H+25.8,'text-anchor':'middle','font-size':FS.label}, 'log\u2082 Fold Change');
  
  
  const yc = T + H / 2 + 0.5;
  const yl = make('text', g, {x:p.yLabelX,y:yc,'text-anchor':'middle','font-size':FS.vLabel,'dominant-baseline':'central',transform:'rotate(-90 '+p.yLabelX+' '+yc+')'}, '-log\u2081\u2080(p-value)');
  
  

  const lx = L + W - 132.3, ly = T + 6.3;
  const lb = make('rect', g, {x:lx,y:ly,width:126.3,height:36,rx:2,fill:'#fff','fill-opacity':.8,stroke:'#efefef','stroke-width':.8});
  
  
  const colors = ['#808080', '#ff0000'];
  const radii = [1, 1.25];
  legendLabels.forEach((lab, i) => {
    const my = ly + 9.4 + i * 17;
    const m = make('circle', g, {cx:lx+15.6,cy:my,r:radii[i],fill:colors[i]});
    
    
    const te = make('text', g, {x:lx+36.3,y:my+3.7,'font-size':FS.legend}, lab);
    
    
  });
}

function drawBars(p) {
  const [L, T, W, H] = p.box;
  const sx = linear([-.49, 1.49], [L, L + W]);
  const sy = linear([0, p.yMax], [T + H, T]);
  const g = make('g', root, {});
  
  
  const colors = ['#ff0000', '#0000ff'];
  p.values.forEach((v, i) => {
    const x0 = sx(i - .4), x1 = sx(i + .4);
    const b = make('rect', g, {x:x0,y:sy(v),width:x1-x0,height:sy(0)-sy(v),fill:colors[i]});
    
    
  });
  drawFrame(g, p.box);
  barCategories.forEach((c, i) => drawXTick(g, sx(i), T + H, c, T + H + 13, FS.barTick));
  const yLabels = fmtTicks(p.ticks);
  p.ticks.forEach((t, i) => drawYTick(g, L, sy(t), yLabels[i], FS.barTick));
  const cx = L + W / 2;
  const tt = make('text', g, {x:cx,y:T-2.5,'text-anchor':'middle','font-size':FS.bTitle}, p.title);
  
  
  const xl = make('text', g, {x:cx,y:T+H+27,'text-anchor':'middle','font-size':FS.barLabel}, 'Expression');
  
  
  const yc = T + H / 2;
  const yl = make('text', g, {x:p.yLabelX,y:yc,'text-anchor':'middle','font-size':FS.geneLabel,'dominant-baseline':'central',transform:'rotate(-90 '+p.yLabelX+' '+yc+')'}, 'Gene Count');
  
  
}

volcanoPanels.forEach(drawVolcano);
barPanels.forEach(drawBars);
</script>
</body>
</html>
